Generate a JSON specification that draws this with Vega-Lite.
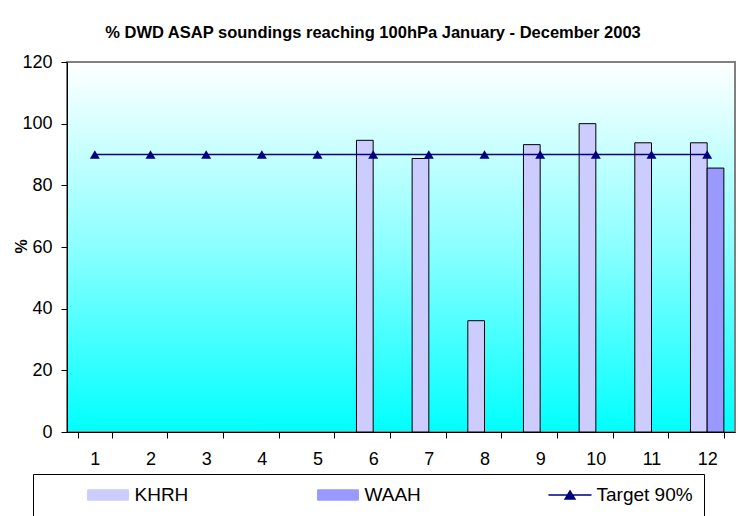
{
  "$schema": "https://vega.github.io/schema/vega-lite/v6.json",
  "width": 668,
  "height": 370,
  "autosize": {"type": "none"},
  "padding": {"left": 67, "top": 62, "right": 3, "bottom": 84},
  "background": "white",
  "title": {
    "text": "% DWD ASAP soundings reaching 100hPa January - December 2003",
    "font": "Liberation Sans",
    "fontSize": 16.5,
    "fontWeight": "bold",
    "color": "black",
    "anchor": "middle",
    "frame": "group",
    "dx": -28,
    "offset": 12
  },
  "datasets": {
    "soundings": [
      {"month": 6, "series": "KHRH", "percent": 94.6},
      {"month": 7, "series": "KHRH", "percent": 88.7},
      {"month": 8, "series": "KHRH", "percent": 36.1},
      {"month": 9, "series": "KHRH", "percent": 93.2},
      {"month": 10, "series": "KHRH", "percent": 100},
      {"month": 11, "series": "KHRH", "percent": 93.8},
      {"month": 12, "series": "KHRH", "percent": 93.8},
      {"month": 12, "series": "WAAH", "percent": 85.6}
    ],
    "target": [
      {"month": 1, "series": "Target 90%", "percent": 90},
      {"month": 2, "series": "Target 90%", "percent": 90},
      {"month": 3, "series": "Target 90%", "percent": 90},
      {"month": 4, "series": "Target 90%", "percent": 90},
      {"month": 5, "series": "Target 90%", "percent": 90},
      {"month": 6, "series": "Target 90%", "percent": 90},
      {"month": 7, "series": "Target 90%", "percent": 90},
      {"month": 8, "series": "Target 90%", "percent": 90},
      {"month": 9, "series": "Target 90%", "percent": 90},
      {"month": 10, "series": "Target 90%", "percent": 90},
      {"month": 11, "series": "Target 90%", "percent": 90},
      {"month": 12, "series": "Target 90%", "percent": 90}
    ]
  },
  "encoding": {
    "x": {
      "field": "month",
      "type": "ordinal",
      "scale": {
        "domain": [1, 2, 3, 4, 5, 6, 7, 8, 9, 10, 11, 12],
        "paddingInner": 0.4,
        "paddingOuter": 0.2
      },
      "axis": {
        "title": null,
        "labelAngle": 0,
        "tickBand": "extent",
        "tickSize": 6,
        "tickColor": "black",
        "domainColor": "black",
        "labelFont": "Liberation Sans",
        "labelFontSize": 18,
        "labelColor": "black",
        "labelPadding": 12
      }
    },
    "y": {
      "field": "percent",
      "type": "quantitative",
      "scale": {"domain": [0, 120], "nice": false},
      "axis": {
        "title": "%",
        "titleFont": "Liberation Sans",
        "titleFontSize": 16,
        "titleFontWeight": "bold",
        "titleColor": "black",
        "titleAngle": -90,
        "titleX": -46,
        "titleY": 184,
        "titleAlign": "center",
        "titleBaseline": "middle",
        "values": [0, 20, 40, 60, 80, 100, 120],
        "grid": false,
        "tickSize": 6,
        "tickColor": "black",
        "domainColor": "black",
        "labelFont": "Liberation Sans",
        "labelFontSize": 18,
        "labelColor": "black",
        "labelPadding": 9
      }
    },
    "color": {
      "field": "series",
      "type": "nominal",
      "scale": {
        "domain": ["KHRH", "WAAH", "Target 90%"],
        "range": ["#CCCCFF", "#9999FF", "#000080"]
      },
      "legend": {
        "title": null,
        "orient": "none",
        "legendX": -34,
        "legendY": 412,
        "direction": "horizontal",
        "columns": 3,
        "strokeColor": "black",
        "fillColor": "white",
        "padding": 11,
        "clipHeight": 20,
        "symbolSize": 1849,
        "symbolOffset": 54.5,
        "labelOffset": 17,
        "columnPadding": 85,
        "labelFont": "Liberation Sans",
        "labelFontSize": 19,
        "labelColor": "black",
        "labelLimit": 0,
        "encode": {
          "symbols": {
            "update": {
              "shape": {"signal": "datum.value === 'Target 90%' ? 'M-1,0H1M-0.23,0.19L0,-0.19L0.23,0.19Z' : 'M-0.95,-0.24H0.95V0.24H-0.95Z'"},
              "stroke": {"signal": "datum.value === 'Target 90%' ? '#000080' : 'black'"},
              "fill": {"scale": "color", "field": "value"},
              "strokeWidth": {"signal": "datum.value === 'Target 90%' ? 1.5 : 1"},
              "opacity": {"value": 1},
              "fillOpacity": {"value": 1},
              "strokeOpacity": {"value": 1}
            }
          }
        }
      }
    }
  },
  "layer": [
    {
      "data": {"name": "soundings"},
      "mark": {"type": "bar", "stroke": "black", "strokeWidth": 1, "opacity": 1},
      "encoding": {
        "xOffset": {"field": "series", "scale": {"domain": ["KHRH", "WAAH"], "paddingInner": 0}}
      }
    },
    {
      "data": {"name": "target"},
      "mark": {
        "type": "line",
        "strokeWidth": 1.5,
        "point": {"shape": "triangle-up", "size": 100, "filled": true, "opacity": 1}
      },
      "encoding": {}
    }
  ],
  "config": {
    "font": "Liberation Sans",
    "view": {
      "stroke": "#808080",
      "strokeWidth": 2,
      "fill": {
        "gradient": "linear",
        "x1": 0, "y1": 0, "x2": 0, "y2": 1,
        "stops": [
          {"offset": 0, "color": "#FFFFFF"},
          {"offset": 0.5, "color": "#8CFFFF"},
          {"offset": 1, "color": "#00FFFF"}
        ]
      }
    }
  }
}
